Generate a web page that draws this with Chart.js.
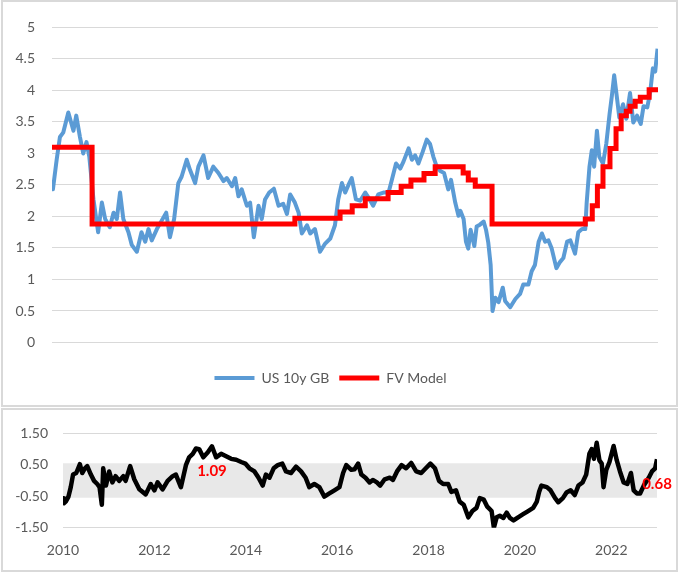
<!DOCTYPE html>
<html>
<head>
<meta charset="utf-8">
<script src="https://cdn.jsdelivr.net/npm/chart.js@4.4.0/dist/chart.umd.min.js"></script>
<style>
    html, body { margin: 0; padding: 0; background: #fff; }
    body { width: 680px; height: 573px; position: relative; overflow: hidden; font-family: Lato, sans-serif; }
    .panel { position: absolute; left: 1px; width: 677px; box-sizing: border-box; border: 2px solid #d9d9d9; background: #fff; }
    #top { top: 0; height: 407px; }
    #bottom { top: 408px; height: 164px; }
    .panel canvas { position: absolute; left: 0; top: 0; }
</style>
</head>
<body>
<div class="panel" id="top"><canvas id="fvChart" width="673" height="403"></canvas></div>
<div class="panel" id="bottom"><canvas id="gapChart" width="673" height="160"></canvas></div>

<script>
// US 10y yield (decimal years)
const usDates = [
    2010.00, 2010.02, 2010.10, 2010.17, 2010.24, 2010.35, 2010.46, 2010.52, 2010.60, 2010.67,
    2010.74, 2010.80, 2010.89, 2010.99, 2011.07, 2011.14, 2011.24, 2011.32, 2011.39, 2011.46,
    2011.53, 2011.64, 2011.71, 2011.82, 2011.92, 2012.00, 2012.07, 2012.14, 2012.25, 2012.35,
    2012.45, 2012.53, 2012.62, 2012.71, 2012.78, 2012.89, 2012.96, 2013.07, 2013.14, 2013.25,
    2013.35, 2013.46, 2013.57, 2013.68, 2013.75, 2013.86, 2013.93, 2014.00, 2014.07, 2014.18,
    2014.25, 2014.33, 2014.43, 2014.50, 2014.57, 2014.66, 2014.76, 2014.86, 2014.96, 2015.04,
    2015.11, 2015.21, 2015.29, 2015.36, 2015.47, 2015.54, 2015.64, 2015.75, 2015.86, 2015.97,
    2016.07, 2016.14, 2016.22, 2016.29, 2016.36, 2016.43, 2016.52, 2016.61, 2016.72, 2016.79,
    2016.89, 2017.00, 2017.11, 2017.22, 2017.29, 2017.38, 2017.47, 2017.54, 2017.65, 2017.72,
    2017.79, 2017.86, 2017.95, 2018.04, 2018.11, 2018.18, 2018.24, 2018.33, 2018.41, 2018.50,
    2018.56, 2018.65, 2018.72, 2018.76, 2018.83, 2018.88, 2018.93, 2018.98, 2019.06, 2019.11,
    2019.18, 2019.26, 2019.31, 2019.36, 2019.41, 2019.45, 2019.51, 2019.58, 2019.67, 2019.72,
    2019.83, 2019.94, 2020.04, 2020.11, 2020.22, 2020.29, 2020.36, 2020.44, 2020.51, 2020.58,
    2020.65, 2020.72, 2020.82, 2020.90, 2020.97, 2021.05, 2021.12, 2021.22, 2021.29, 2021.37,
    2021.44, 2021.47, 2021.53, 2021.58, 2021.63, 2021.69, 2021.74, 2021.82, 2021.89, 2021.96,
    2022.01, 2022.06, 2022.12, 2022.17, 2022.25, 2022.32, 2022.40, 2022.47, 2022.55, 2022.63,
    2022.69, 2022.77, 2022.83, 2022.89, 2022.94, 2022.99
];
const usYield = [
    2.55, 2.43, 2.90, 3.26, 3.33, 3.65, 3.36, 3.60, 3.26, 3.00,
    3.18, 2.95, 2.27, 1.75, 2.22, 1.96, 1.83, 2.06, 1.96, 2.38,
    1.96, 1.75, 1.55, 1.44, 1.75, 1.60, 1.80, 1.62, 1.80, 1.93,
    2.06, 1.67, 1.96, 2.53, 2.63, 2.90, 2.74, 2.53, 2.79, 2.97,
    2.61, 2.79, 2.69, 2.56, 2.61, 2.48, 2.61, 2.32, 2.43, 2.17,
    2.22, 1.67, 2.17, 1.96, 2.27, 2.38, 2.44, 2.17, 2.20, 2.04,
    2.35, 2.22, 2.06, 1.73, 1.86, 1.73, 1.80, 1.44, 1.57, 1.65,
    1.86, 2.27, 2.53, 2.38, 2.50, 2.61, 2.27, 2.25, 2.38, 2.30,
    2.17, 2.35, 2.38, 2.38, 2.58, 2.84, 2.76, 2.87, 3.08, 2.90,
    2.97, 2.84, 3.02, 3.22, 3.15, 2.95, 2.82, 2.72, 2.69, 2.43,
    2.58, 2.22, 2.01, 2.09, 1.96, 1.60, 1.49, 1.79, 1.53, 1.84,
    1.87, 1.92, 1.79, 1.58, 1.23, 0.50, 0.71, 0.64, 0.87, 0.66,
    0.56, 0.69, 0.77, 0.92, 0.92, 1.13, 1.23, 1.60, 1.73, 1.60,
    1.62, 1.49, 1.18, 1.28, 1.34, 1.60, 1.62, 1.41, 1.75, 1.80,
    1.80, 2.22, 2.79, 3.05, 2.79, 3.36, 2.95, 2.84, 3.15, 3.62,
    3.91, 4.24, 3.88, 3.57, 3.78, 3.55, 3.96, 3.49, 3.60, 3.47,
    3.75, 3.73, 3.96, 4.35, 4.30, 4.66
];

// FV model: each value holds until the next date
const fvDates = [
    2010.00, 2010.86, 2015.21, 2016.18, 2016.44, 2016.72, 2017.21, 2017.49, 2017.70, 2017.98,
    2018.22, 2018.82, 2018.93, 2019.08, 2019.44, 2021.44, 2021.59, 2021.70, 2021.82, 2021.97,
    2022.10, 2022.21, 2022.32, 2022.40, 2022.51, 2022.62, 2022.81, 2023.00
];
const fvValues = [
    3.10, 1.88, 1.97, 2.07, 2.17, 2.28, 2.38, 2.48, 2.58, 2.68,
    2.79, 2.69, 2.58, 2.48, 1.88, 1.96, 2.17, 2.48, 2.79, 3.08,
    3.39, 3.60, 3.67, 3.75, 3.83, 3.89, 4.01, 4.01
];

// Yield minus FV (bottom panel)
const gapDates = [
    2010.00, 2010.02, 2010.06, 2010.12, 2010.17, 2010.22, 2010.29, 2010.37, 2010.42, 2010.48,
    2010.53, 2010.61, 2010.68, 2010.75, 2010.80, 2010.85, 2010.88, 2010.94, 2011.01, 2011.08,
    2011.15, 2011.23, 2011.32, 2011.37, 2011.47, 2011.56, 2011.67, 2011.81, 2011.92, 2012.00,
    2012.07, 2012.18, 2012.29, 2012.40, 2012.47, 2012.58, 2012.69, 2012.76, 2012.84, 2012.91,
    2012.98, 2013.07, 2013.17, 2013.26, 2013.35, 2013.46, 2013.57, 2013.68, 2013.79, 2013.90,
    2013.99, 2014.08, 2014.19, 2014.28, 2014.37, 2014.44, 2014.52, 2014.61, 2014.70, 2014.80,
    2014.88, 2014.99, 2015.10, 2015.21, 2015.31, 2015.39, 2015.50, 2015.61, 2015.72, 2015.83,
    2015.94, 2016.05, 2016.13, 2016.20, 2016.31, 2016.38, 2016.46, 2016.53, 2016.62, 2016.71,
    2016.78, 2016.87, 2016.94, 2017.04, 2017.15, 2017.22, 2017.31, 2017.41, 2017.51, 2017.62,
    2017.73, 2017.84, 2017.94, 2018.04, 2018.14, 2018.23, 2018.32, 2018.43, 2018.50, 2018.60,
    2018.68, 2018.77, 2018.87, 2018.96, 2019.05, 2019.12, 2019.21, 2019.28, 2019.38, 2019.43,
    2019.49, 2019.56, 2019.64, 2019.71, 2019.78, 2019.86, 2019.96, 2020.07, 2020.18, 2020.29,
    2020.37, 2020.42, 2020.47, 2020.59, 2020.67, 2020.77, 2020.84, 2020.94, 2021.02, 2021.11,
    2021.20, 2021.28, 2021.37, 2021.45, 2021.52, 2021.57, 2021.62, 2021.68, 2021.74, 2021.79,
    2021.83, 2021.89, 2021.96, 2022.05, 2022.12, 2022.19, 2022.27, 2022.35, 2022.43, 2022.49,
    2022.56, 2022.63, 2022.71, 2022.82, 2022.89, 2022.96, 2023.00
];
const gapValues = [
    -0.56, -0.72, -0.67, -0.51, -0.21, 0.19, 0.24, 0.52, 0.24, 0.39,
    0.46, 0.19, -0.01, -0.11, -0.21, -0.77, 0.39, -0.16, 0.29, -0.06,
    0.14, -0.01, 0.14, -0.01, 0.46, 0.04, -0.28, -0.44, -0.11, -0.31,
    -0.06, -0.28, -0.01, 0.14, 0.19, -0.21, 0.49, 0.74, 0.85, 1.02,
    1.00, 0.74, 0.90, 1.09, 0.74, 0.85, 0.77, 0.69, 0.66, 0.59,
    0.54, 0.39, 0.29, 0.09, -0.16, 0.19, 0.09, 0.39, 0.49, 0.54,
    0.29, 0.24, 0.44, 0.29, 0.09, -0.21, -0.11, -0.21, -0.51, -0.41,
    -0.31, -0.21, 0.24, 0.49, 0.34, 0.36, 0.54, 0.19, 0.09, -0.06,
    0.02, -0.06, -0.16, 0.04, 0.09, 0.02, 0.29, 0.49, 0.39, 0.56,
    0.29, 0.24, 0.39, 0.54, 0.39, -0.01, -0.11, -0.11, -0.36, -0.31,
    -0.67, -0.77, -1.17, -0.97, -0.87, -0.56, -0.61, -0.82, -0.97, -1.50,
    -1.17, -1.12, -1.19, -1.02, -1.19, -1.27, -1.17, -1.07, -0.97, -0.87,
    -0.67, -0.36, -0.16, -0.21, -0.31, -0.56, -0.69, -0.56, -0.38, -0.31,
    -0.46, -0.16, -0.06, 0.19, 0.85, 1.00, 0.69, 1.20, 0.64, 0.54,
    -0.21, 0.34, 0.59, 1.10, 0.64, 0.29, -0.06, -0.11, 0.24, -0.31,
    -0.41, -0.41, -0.16, 0.09, 0.29, 0.39, 0.68
];
const labelledDates = [2013.26, 2023.00];

// +/- band behind the gap line
const bandUpper = 0.55;
const bandLower = -0.55;

const yearTicks = [2010, 2012, 2014, 2016, 2018, 2020, 2022];

const toPoints = (xs, ys) => xs.map((x, i) => ({ x: x, y: ys[i] }));

Chart.defaults.font.family = 'Lato';
Chart.defaults.font.size = 14;
Chart.defaults.color = '#595959';

new Chart(document.getElementById('fvChart'), {
    type: 'line',
    data: {
        datasets: [
            {
                label: 'US 10y GB',
                data: toPoints(usDates, usYield),
                borderColor: '#5B9BD5',
                backgroundColor: '#5B9BD5',
                borderWidth: 4,
                borderJoinStyle: 'round',
                pointRadius: 0,
                tension: 0,
                order: 1
            },
            {
                label: 'FV Model',
                data: toPoints(fvDates, fvValues),
                borderColor: '#FF0000',
                backgroundColor: '#FF0000',
                borderWidth: 5,
                pointRadius: 0,
                stepped: 'before',
                order: 0 // on top
            }
        ]
    },
    options: {
        responsive: false,
        animation: false,
        layout: { padding: { top: 20, right: 18, bottom: 10, left: 0 } },
        plugins: {
            legend: {
                position: 'bottom',
                labels: {
                    usePointStyle: true,
                    pointStyle: 'line',
                    pointStyleWidth: 40,
                    padding: 10,
                    color: '#595959',
                    sort: (a, b) => a.datasetIndex - b.datasetIndex
                }
            },
            tooltip: { enabled: false }
        },
        scales: {
            x: {
                type: 'linear',
                min: 2010,
                max: 2023,
                ticks: { display: false },
                grid: { display: false, drawTicks: false },
                border: { display: false },
                afterFit: (s) => { s.height = 18.5; }
            },
            y: {
                min: 0,
                max: 5,
                ticks: { stepSize: 0.5, padding: 17, callback: (v) => String(Number(v.toFixed(1))) },
                grid: { color: '#d9d9d9', drawTicks: false },
                border: { display: false },
                afterFit: (s) => { s.width = 49; }
            }
        }
    }
});

const gapLabels = {
    id: 'gapLabels',
    afterDatasetsDraw(chart) {
        const { ctx, scales: { x, y } } = chart;
        ctx.save();
        ctx.font = 'bold 15px Lato';
        ctx.fillStyle = '#FF0000';
        ctx.textAlign = 'center';
        ctx.textBaseline = 'middle';
        labelledDates.forEach((d) => {
            const v = gapValues[gapDates.indexOf(d)];
            ctx.fillText(v.toFixed(2), x.getPixelForValue(d), y.getPixelForValue(v) + 25);
        });
        ctx.restore();
    }
};

new Chart(document.getElementById('gapChart'), {
    type: 'line',
    data: {
        datasets: [
            {
                label: 'Gap',
                data: toPoints(gapDates, gapValues),
                borderColor: '#000000',
                borderWidth: 4.5,
                borderJoinStyle: 'round',
                pointRadius: 0,
                tension: 0,
                order: 0
            },
            {
                label: 'Band',
                data: toPoints([2010, 2023], [bandUpper, bandUpper]),
                borderWidth: 0,
                borderColor: 'rgba(0,0,0,0)',
                backgroundColor: '#e8e8e8',
                pointRadius: 0,
                fill: { value: bandLower },
                order: 1
            }
        ]
    },
    options: {
        responsive: false,
        animation: false,
        layout: { padding: { top: 18, right: 19, bottom: 0, left: 0 } },
        plugins: {
            legend: { display: false },
            tooltip: { enabled: false }
        },
        scales: {
            x: {
                type: 'linear',
                min: 2010,
                max: 2023,
                afterBuildTicks: (s) => { s.ticks = yearTicks.map((v) => ({ value: v })); },
                ticks: { callback: (v) => String(v), padding: 14, maxRotation: 0, autoSkip: false },
                grid: { display: false, drawTicks: false },
                border: { display: false },
                afterFit: (s) => { s.height = 42.3; }
            },
            y: {
                min: -1.5,
                max: 1.5,
                ticks: { stepSize: 1, padding: 15, callback: (v) => v.toFixed(2) },
                grid: { color: '#d9d9d9', drawTicks: false },
                border: { display: false },
                afterFit: (s) => { s.width = 60; }
            }
        }
    },
    plugins: [gapLabels]
});
</script>
</body>
</html>
